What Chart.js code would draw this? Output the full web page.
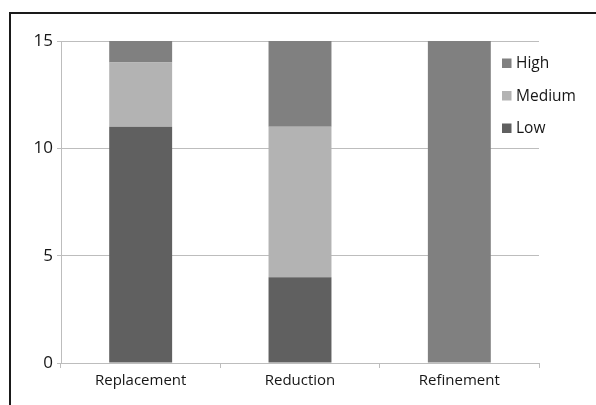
<!DOCTYPE html>
<html>
<head>
<meta charset="utf-8">
<script src="https://cdn.jsdelivr.net/npm/chart.js@4.4.2/dist/chart.umd.min.js"></script>
<style>
  html, body { margin: 0; padding: 0; background: #fff; }
  #wrap { position: relative; width: 596px; height: 405px; }
  #frame {
    position: absolute; left: 9px; top: 12px; right: -5px; bottom: -5px;
    border-top: 2.5px solid #1a1a1a; border-left: 2.5px solid #1a1a1a;
    pointer-events: none;
  }
  canvas { position: absolute; left: 0; top: 0; }
</style>
</head>
<body>
<div id="wrap">
  <canvas id="chart" width="596" height="405"></canvas>
  <div id="frame"></div>
</div>
<script>
// Stacked bars — Low / Medium / High per category
const categories = ['Replacement', 'Reduction', 'Refinement'];
const lowValues = [11, 4, 0];
const mediumValues = [3, 7, 0];
const highValues = [1, 4, 15];
const yTicks = [0, 5, 10, 15];

const FONT = '"Open Sans", "DejaVu Sans", sans-serif';
const TEXT = '#161616';
const GRID = '#bdbdbd';

// legend drawn inside the plot, top-right, High first
const insideLegend = {
  id: 'insideLegend',
  afterDraw(chart) {
    const { ctx, chartArea } = chart;
    const items = chart.data.datasets.slice().reverse();
    ctx.save();
    ctx.font = '15.5px ' + FONT;
    ctx.textBaseline = 'middle';
    items.forEach((ds, i) => {
      const y = chartArea.top + 22 + i * 32.5;
      const x = chartArea.right - 37;
      ctx.fillStyle = ds.backgroundColor;
      ctx.fillRect(x, y - 4.5, 9.5, 9.5);
      ctx.fillStyle = TEXT;
      ctx.fillText(ds.label, x + 14, y + 1);
    });
    ctx.restore();
  },
};

new Chart(document.getElementById('chart'), {
  type: 'bar',
  data: {
    labels: categories,
    datasets: [
      { label: 'Low', data: lowValues, backgroundColor: '#606060' },
      { label: 'Medium', data: mediumValues, backgroundColor: '#b3b3b3' },
      { label: 'High', data: highValues, backgroundColor: '#808080' },
    ],
  },
  options: {
    responsive: false, animation: false,
    layout: { padding: { left: 0, top: 41, right: 57, bottom: 0 } },
    datasets: { bar: { categoryPercentage: 1, barPercentage: 0.395, borderWidth: 0 } },
    plugins: { legend: { display: false }, tooltip: { enabled: false } },
    scales: {
      x: {
        stacked: true,
        afterFit: s => { s.height = 42; },
        grid: { offset: true, drawOnChartArea: false, color: GRID, tickLength: 5, lineWidth: 1 },
        border: { color: GRID, width: 1 },
        ticks: { color: TEXT, font: { family: FONT, size: 15 }, padding: 4 },
      },
      y: {
        stacked: true, min: 0, max: 15,
        afterFit: s => { s.width = 61; },
        afterBuildTicks: s => { s.ticks = yTicks.map(v => ({ value: v })); },
        grid: { color: GRID, tickLength: 4, lineWidth: 1 },
        border: { color: GRID, width: 1 },
        ticks: { color: TEXT, font: { family: FONT, size: 17 }, padding: 4 },
      },
    },
  },
  plugins: [insideLegend],
});
</script>
</body>
</html>
